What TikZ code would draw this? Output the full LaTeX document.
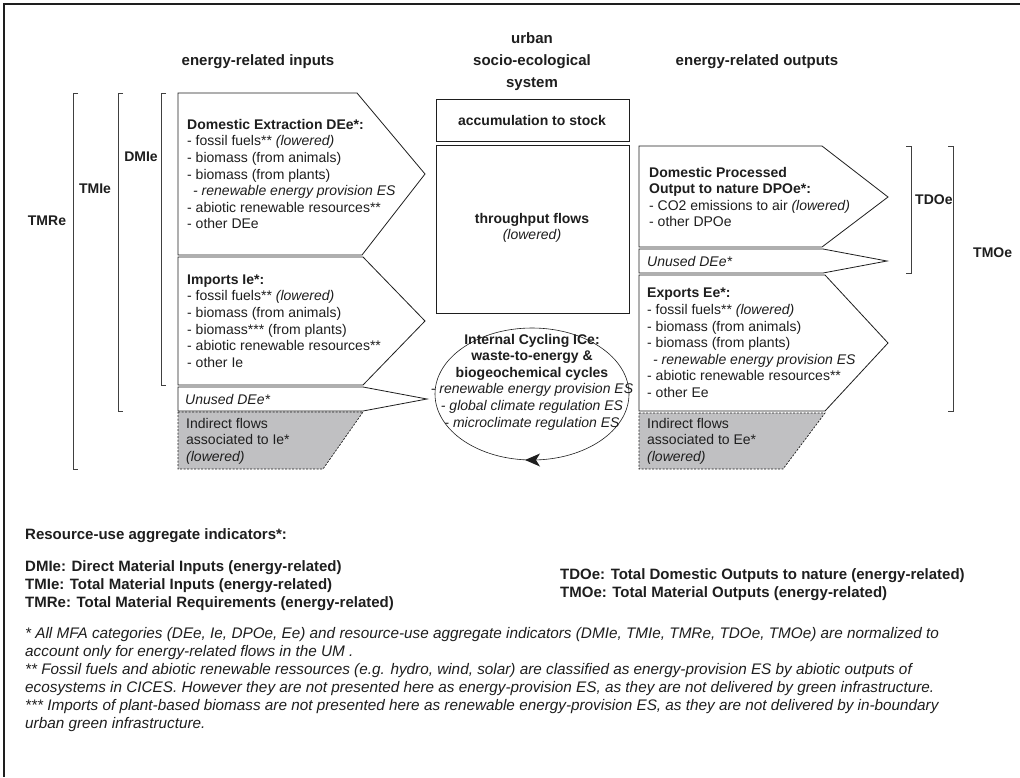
\documentclass[tikz,border=0pt]{standalone}
\usepackage{fontspec}
\setmainfont{Liberation Sans}
\usetikzlibrary{arrows.meta}
\definecolor{ink}{HTML}{1E1E1E}
\definecolor{shade}{RGB}{192,192,194}
\begin{document}
\begin{tikzpicture}[x=1pt,y=-1pt,
  txt/.style={font=\fontsize{14}{16.6}\selectfont, inner sep=0pt, text=ink, align=left},
  ctxt/.style={txt, align=center},
  btxt/.style={font=\fontsize{14}{16.6}\selectfont\bfseries, inner sep=0pt, text=ink, align=left},
  itxt/.style={font=\fontsize{14}{16.6}\selectfont\itshape, inner sep=0pt, text=ink, align=left},
  lbtxt/.style={font=\fontsize{15}{18}\selectfont\bfseries, inner sep=0pt, text=ink, align=left},
  litxt/.style={font=\fontsize{15.3}{18}\selectfont\itshape, inner sep=0pt, text=ink, align=left},
  hd/.style={font=\fontsize{15}{22}\selectfont\bfseries, inner sep=0pt, text=ink, align=center},
  boxline/.style={draw=ink, line width=0.8pt, line join=miter},
  indbox/.style={draw=ink, line width=0.7pt, fill=shade, dash pattern=on 2pt off 1.5pt},
  brk/.style={draw=ink!85, line width=0.9pt},
]
\useasboundingbox (0,0) rectangle (1020,777);
\fill[white] (0,0) rectangle (1020,777);
\draw[ink, line width=2.5pt] (1020,4) -- (4,4) -- (4,777);

% titles
\node[hd] (tin) at (258,62) {energy-related inputs};
\node[hd] (tsys) at (532,62) {urban\\socio-ecological\\system};
\node[hd] (tout) at (757,62) {energy-related outputs};

% left brackets
\draw[brk] (78,93) -- (73,93) -- (73,469) -- (78,469);
\draw[brk] (123,93) -- (118,93) -- (118,411) -- (123,411);
\draw[brk] (166,93) -- (161,93) -- (161,385) -- (166,385);
\node[btxt] (lTMRe) at (47,221) {TMRe};
\node[btxt] (lTMIe) at (95,189) {TMIe};
\node[btxt] (lDMIe) at (141,157) {DMIe};

% left boxes
\draw[boxline] (178,93) -- (357,93) -- (425,174) -- (362,255) -- (178,255) -- cycle;
\node[txt, anchor=west] (dee) at (187,174) {\textbf{Domestic Extraction DEe*:}\\- fossil fuels** \textit{(lowered)}\\- biomass (from animals)\\- biomass (from plants)\\\hspace*{6pt}\textit{- renewable energy provision ES}\\- abiotic renewable resources**\\- other DEe};
\draw[boxline] (178,257) -- (363,257) -- (425,321) -- (363,385) -- (178,385) -- cycle;
\node[txt, anchor=west] (imp) at (187,321) {\textbf{Imports Ie*:}\\- fossil fuels** \textit{(lowered)}\\- biomass (from animals)\\- biomass*** (from plants)\\- abiotic renewable resources**\\- other Ie};
\draw[boxline] (178,387) -- (363,387) -- (427,399) -- (363,411) -- (178,411) -- cycle;
\node[itxt, anchor=west] (unl) at (185,399) {Unused DEe*};
\draw[indbox] (178,412) -- (363,412) -- (323,469) -- (178,469) -- cycle;
\node[txt, anchor=west] (indl) at (186,441) {Indirect flows\\associated to Ie*\\\textit{(lowered)}};

% center system
\draw[ink, line width=0.5pt, double, double distance=1.5pt] (432,95) rectangle (633,467);
\draw[boxline] (436,99) rectangle (629,141);
\node[btxt] (acc) at (532,120) {accumulation to stock};
\draw[boxline] (436,145) rectangle (629,313);
\node[ctxt] (thr) at (532,228) {\textbf{throughput flows}\\\textit{(lowered)}};
\draw[ink, line width=0.6pt] (532,394) ellipse [x radius=97, y radius=66];
\fill[ink] (525,460) -- (540,453.5) -- (536,460) -- (540,466.5) -- cycle;
\node[ctxt] (ice) at (532,382) {\textbf{Internal Cycling ICe:}\\\textbf{waste-to-energy \&}\\\textbf{biogeochemical cycles}\\\textit{- renewable energy provision ES}\\\textit{- global climate regulation ES}\\\textit{- microclimate regulation ES}};

% right boxes
\draw[boxline] (639,146) -- (822,146) -- (888,197) -- (822,247) -- (639,247) -- cycle;
\node[txt, anchor=west] (dpo) at (649,197) {\textbf{Domestic Processed}\\\textbf{Output to nature DPOe*:}\\- CO2 emissions to air \textit{(lowered)}\\- other DPOe};
\draw[boxline] (639,249) -- (823,249) -- (887,261) -- (823,273) -- (639,273) -- cycle;
\node[itxt, anchor=west] (unr) at (647,261) {Unused DEe*};
\draw[boxline] (639,275) -- (825,275) -- (888,343) -- (825,411) -- (639,411) -- cycle;
\node[txt, anchor=west] (exp) at (647,343) {\textbf{Exports Ee*:}\\- fossil fuels** \textit{(lowered)}\\- biomass (from animals)\\- biomass (from plants)\\\hspace*{6pt}\textit{- renewable energy provision ES}\\- abiotic renewable resources**\\- other Ee};
\draw[indbox] (639,413) -- (825,413) -- (783,469) -- (639,469) -- cycle;
\node[txt, anchor=west] (indr) at (647,441) {Indirect flows\\associated to Ee*\\\textit{(lowered)}};

% right brackets
\draw[brk] (906,146) -- (911,146) -- (911,273) -- (906,273);
\draw[brk] (948,146) -- (953,146) -- (953,411) -- (948,411);
\node[btxt, anchor=west] (lTDOe) at (915,200) {TDOe};
\node[btxt, anchor=west] (lTMOe) at (973,253) {TMOe};

% legend
\node[lbtxt, anchor=west] (leg) at (25,536) {Resource-use aggregate indicators*:};
\node[lbtxt, anchor=west] (legl) at (25,586) {DMIe: Direct Material Inputs (energy-related)\\TMIe: Total Material Inputs (energy-related)\\TMRe: Total Material Requirements (energy-related)};
\node[lbtxt, anchor=west] (legr) at (560,585) {TDOe: Total Domestic Outputs to nature (energy-related)\\TMOe: Total Material Outputs (energy-related)};
\node[litxt, anchor=west] (foot) at (25,680) {* All MFA categories (DEe, Ie, DPOe, Ee) and resource-use aggregate indicators (DMIe, TMIe, TMRe, TDOe, TMOe) are normalized to\\account only for energy-related flows in the UM .\\** Fossil fuels and abiotic renewable ressources (e.g. hydro, wind, solar) are classified as energy-provision ES by abiotic outputs of\\ecosystems in CICES. However they are not presented here as energy-provision ES, as they are not delivered by green infrastructure.\\*** Imports of plant-based biomass are not presented here as renewable energy-provision ES, as they are not delivered by in-boundary\\urban green infrastructure.};
\end{tikzpicture}
\end{document}
